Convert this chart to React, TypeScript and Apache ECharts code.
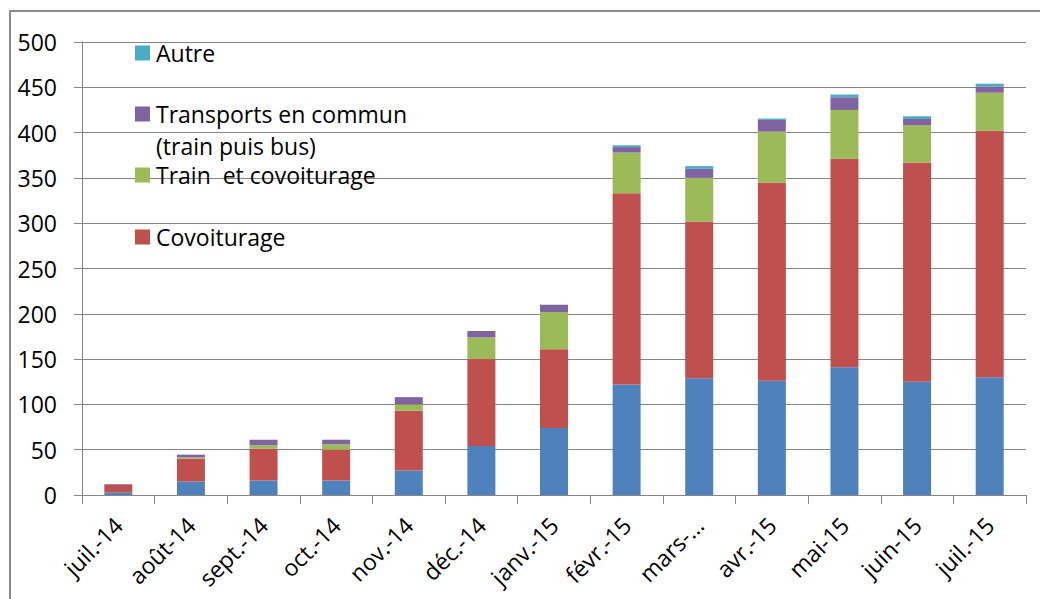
import React, { useEffect, useRef } from "react";
import * as echarts from "echarts";

const categories = ["juil.-14", "août-14", "sept.-14", "oct.-14", "nov.-14", "déc.-14", "janv.-15", "févr.-15", "mars-…", "avr.-15", "mai-15", "juin-15", "juil.-15"];
const seriesBleu = [3, 15, 16, 16, 27, 54, 74, 122, 129, 126, 141, 125, 130];
const covoiturage = [8, 25, 35, 34, 66, 96, 87, 211, 173, 219, 230, 242, 272];
const trainCovoiturage = [0, 1.5, 4, 6, 7, 24, 41, 45, 48, 56, 54, 41, 42];
const transportsCommun = [1, 3, 6, 5, 8, 7, 8, 6, 10, 13, 14, 7, 7];
const autre = [0, 0, 0, 0, 0, 0, 0, 2, 3, 1.5, 3, 3, 3];
const yTicks = { min: 0, max: 500, interval: 50 };

const COLORS = {
  bleu: "#4F81BD",
  covoit: "#C0504D",
  train: "#9BBB59",
  transports: "#8064A2",
  autre: "#4BACC6",
};

const FONT = "'Open Sans', sans-serif";

export default function App() {
  const ref = useRef<HTMLDivElement>(null);
  useEffect(() => {
    if (!ref.current) return;
    const chart = echarts.init(ref.current, undefined, { renderer: "svg" });
    const bar = (name: string, data: number[], color: string) => ({
      name,
      type: "bar",
      stack: "total",
      data,
      barWidth: 28,
      itemStyle: { color },
    });
    const legendItems = [
      { color: COLORS.autre, lines: ["Autre"], y: 53 },
      { color: COLORS.transports, lines: ["Transports en commun", "(train puis bus)"], y: 114 },
      { color: COLORS.train, lines: ["Train  et covoiturage"], y: 175 },
      { color: COLORS.covoit, lines: ["Covoiturage"], y: 237 },
    ];
    const graphics: any[] = [
      {
        type: "rect",
        silent: true,
        shape: { x: 10, y: 11, width: 1100, height: 700 },
        style: { fill: "none", stroke: "#8c8c8c", lineWidth: 2 },
        z: 0,
      },
    ];
    legendItems.forEach((it) => {
      graphics.push({
        type: "rect",
        shape: { x: 135, y: it.y - 7.5, width: 15, height: 15 },
        style: { fill: it.color },
        z: 10,
      });
      it.lines.forEach((ln, i) => {
        graphics.push({
          type: "text",
          x: 156,
          y: it.y + i * 32,
          style: {
            text: ln,
            fill: "#000",
            font: `23px ${FONT}`,
            textVerticalAlign: "middle",
            verticalAlign: "middle",
          },
          z: 10,
        });
      });
    });
    chart.setOption({
      animation: false,
      grid: { left: 82, right: 14, top: 42, bottom: 104, containLabel: false },
      xAxis: {
        type: "category",
        data: categories,
        axisLine: { show: true, lineStyle: { color: "#868686", width: 1 } },
        axisTick: { show: true, interval: 0, length: 9, lineStyle: { color: "#868686" } },
        axisLabel: {
          interval: 0,
          rotate: 45,
          margin: 26,
          fontSize: 23,
          fontFamily: FONT,
          color: "#000",
        },
      },
      yAxis: {
        type: "value",
        min: yTicks.min,
        max: yTicks.max,
        interval: yTicks.interval,
        axisLine: { show: true, lineStyle: { color: "#868686", width: 1 } },
        axisTick: { show: true, length: 8, lineStyle: { color: "#868686" } },
        splitLine: { show: true, lineStyle: { color: "#868686", width: 1 } },
        axisLabel: { fontSize: 23, fontFamily: FONT, color: "#000", margin: 25 },
      },
      series: [
        bar("Série 1", seriesBleu, COLORS.bleu),
        bar("Covoiturage", covoiturage, COLORS.covoit),
        bar("Train  et covoiturage", trainCovoiturage, COLORS.train),
        bar("Transports en commun (train puis bus)", transportsCommun, COLORS.transports),
        bar("Autre", autre, COLORS.autre),
      ],
      graphic: graphics,
    });
    return () => chart.dispose();
  }, []);
  return (
    <div
      ref={ref}
      style={{ position: "fixed", left: 0, top: 0, width: 1040, height: 599, background: "#fff" }}
    />
  );
}
